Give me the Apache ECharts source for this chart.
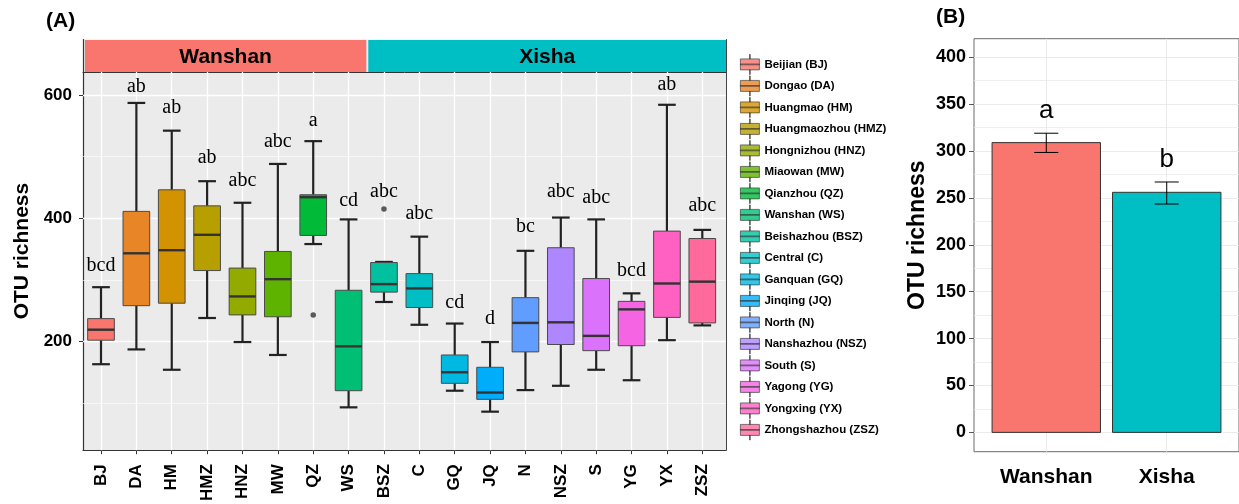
<!DOCTYPE html>
<html>
<head>
    <meta charset="UTF-8">
    <title>OTU richness</title>
    <style>
        html, body { margin: 0; padding: 0; background: #fff; }
        #chart { width: 1239px; height: 504px; }
    </style>
    <script type="text/javascript" src="https://cdn.jsdelivr.net/npm/echarts@6/dist/echarts.min.js"></script>
</head>
<body>
<div id="chart"></div>
<script>
    // ---- panel A data (box plots per site) ----
    const sites = ['BJ', 'DA', 'HM', 'HMZ', 'HNZ', 'MW', 'QZ', 'WS', 'BSZ', 'C', 'GQ', 'JQ', 'N', 'NSZ', 'S', 'YG', 'YX', 'ZSZ'];
    const siteNames = ['Beijian (BJ)', 'Dongao (DA)', 'Huangmao (HM)', 'Huangmaozhou (HMZ)', 'Hongnizhou (HNZ)',
        'Miaowan (MW)', 'Qianzhou (QZ)', 'Wanshan (WS)', 'Beishazhou (BSZ)', 'Central (C)', 'Ganquan (GQ)',
        'Jinqing (JQ)', 'North (N)', 'Nanshazhou (NSZ)', 'South (S)', 'Yagong (YG)', 'Yongxing (YX)', 'Zhongshazhou (ZSZ)'];
    const siteGroup = ['Wanshan', 'Wanshan', 'Wanshan', 'Wanshan', 'Wanshan', 'Wanshan', 'Wanshan', 'Wanshan',
        'Xisha', 'Xisha', 'Xisha', 'Xisha', 'Xisha', 'Xisha', 'Xisha', 'Xisha', 'Xisha', 'Xisha'];
    const whiskerLow  = [163, 187, 154, 238, 199, 178, 358, 93, 264, 227, 120, 86, 121, 128, 154, 137, 202, 226];
    const q1          = [202, 258, 262, 315, 243, 240, 372, 120, 280, 255, 132, 106, 183, 195, 185, 193, 239, 230];
    const median      = [219, 343, 348, 373, 273, 301, 434, 192, 293, 286, 150, 117, 230, 231, 209, 252, 294, 297];
    const q3          = [237, 411, 446, 420, 319, 346, 438, 283, 328, 310, 178, 158, 271, 352, 302, 265, 379, 367];
    const whiskerHigh = [288, 587, 542, 460, 425, 488, 525, 398, 329, 370, 229, 199, 347, 401, 398, 278, 584, 381];
    const outlierSite  = ['QZ', 'BSZ'];
    const outlierValue = [243, 415];
    const letters = ['bcd', 'ab', 'ab', 'ab', 'abc', 'abc', 'a', 'cd', 'abc', 'abc', 'cd', 'd', 'bc', 'abc', 'abc', 'bcd', 'ab', 'abc'];
    const letterY = [312, 602, 568, 486, 450, 512, 547, 417, 431, 396, 252, 225, 374, 432, 421, 303, 605, 408];
    const yTicksA = [200, 400, 600];
    const yMinorA = [100, 300, 500];

    // ---- panel B data (mean +/- se per region) ----
    const regions = ['Wanshan', 'Xisha'];
    const meanRichness = [309, 256];
    const errLow  = [298.5, 243.5];
    const errHigh = [319, 267];
    const regionLetters = ['a', 'b'];
    const regionLetterY = [334, 282];
    const yTicksB = [0, 50, 100, 150, 200, 250, 300, 350, 400];
    const yMinorB = [25, 75, 125, 175, 225, 275, 325, 375];

    // ggplot2 default hue palette (hcl, c = 100, l = 65)
    function hcl(h, c, l) {
        const rad = h * Math.PI / 180;
        const U = c * Math.cos(rad), V = c * Math.sin(rad);
        const Y = l > 8 ? 100 * Math.pow((l + 16) / 116, 3) : 100 * l / 903.3;
        const u = U / (13 * l) + 0.1978398, v = V / (13 * l) + 0.4683363;
        const X = 9 * Y * u / (4 * v);
        const Z = -X / 3 - 5 * Y + 3 * Y / v;
        const lin = [
            3.240479 * X - 1.537150 * Y - 0.498535 * Z,
            -0.969256 * X + 1.875992 * Y + 0.041556 * Z,
            0.055648 * X - 0.204043 * Y + 1.057311 * Z
        ];
        return '#' + lin.map(t => {
            t = Math.max(0, t / 100);
            t = t > 0.00304 ? 1.055 * Math.pow(t, 1 / 2.4) - 0.055 : 12.92 * t;
            return Math.round(255 * Math.min(1, t)).toString(16).padStart(2, '0');
        }).join('');
    }
    function huePal(n) {
        const out = [];
        for (let k = 0; k < n; k++) out.push(hcl(15 + k * 360 / n, 100, 65));
        return out;
    }
    const siteColors = huePal(sites.length);
    const regionColors = huePal(regions.length);

    const sans = 'Liberation Sans';
    const serif = 'Liberation Serif';

    // strip groups from siteGroup
    const stripData = [];
    siteGroup.forEach((g, i) => {
        const last = stripData[stripData.length - 1];
        if (last && regions[last[2]] === g) last[1] = i;
        else stripData.push([i, i, regions.indexOf(g)]);
    });

    const boxData = sites.map((s, i) => [i, whiskerLow[i], q1[i], median[i], q3[i], whiskerHigh[i]]);
    const letterData = sites.map((s, i) => [i, letterY[i]]);
    const outlierData = outlierSite.map((s, k) => [sites.indexOf(s), outlierValue[k]]);
    const barData = regions.map((r, i) => [i + 1, meanRichness[i], errLow[i], errHigh[i]]);
    const regionLetterData = regions.map((r, i) => [i + 1, regionLetterY[i]]);

    function renderBox(params, api) {
        const x = api.value(0);
        const halfBox = 0.377, halfCap = 0.25;
        const pLow = api.coord([x, api.value(1)]);
        const pQ1 = api.coord([x, api.value(2)]);
        const pMed = api.coord([x, api.value(3)]);
        const pQ3 = api.coord([x, api.value(4)]);
        const pHigh = api.coord([x, api.value(5)]);
        const left = api.coord([x - halfBox, 0])[0];
        const right = api.coord([x + halfBox, 0])[0];
        const capL = api.coord([x - halfCap, 0])[0];
        const capR = api.coord([x + halfCap, 0])[0];
        const wStyle = {stroke: '#222', lineWidth: 2.2};
        return {
            type: 'group',
            children: [
                {type: 'line', shape: {x1: pHigh[0], y1: pHigh[1], x2: pQ3[0], y2: pQ3[1]}, style: wStyle},
                {type: 'line', shape: {x1: pLow[0], y1: pLow[1], x2: pQ1[0], y2: pQ1[1]}, style: wStyle},
                {type: 'line', shape: {x1: capL, y1: pHigh[1], x2: capR, y2: pHigh[1]}, style: wStyle},
                {type: 'line', shape: {x1: capL, y1: pLow[1], x2: capR, y2: pLow[1]}, style: wStyle},
                {
                    type: 'rect',
                    shape: {x: left, y: pQ3[1], width: right - left, height: pQ1[1] - pQ3[1]},
                    style: {fill: siteColors[params.dataIndex], stroke: '#4a4a4a', lineWidth: 1}
                },
                {type: 'line', shape: {x1: left, y1: pMed[1], x2: right, y2: pMed[1]}, style: {stroke: '#333', lineWidth: 2.4}}
            ]
        };
    }

    function renderLetter(texts, font, shift) {
        return function (params, api) {
            const p = api.coord([api.value(0), api.value(1)]);
            return {
                type: 'text',
                x: p[0],
                y: p[1] + shift,
                style: {text: texts[params.dataIndex], font: font, fill: '#000', align: 'center', verticalAlign: 'bottom'}
            };
        };
    }

    function renderStrip(params, api) {
        const cs = params.coordSys;
        const i = params.dataIndex;
        let x0 = api.coord([api.value(0) - 0.5, 0])[0];
        let x1 = api.coord([api.value(1) + 0.5, 0])[0];
        if (i === 0) x0 = cs.x;
        if (i === stripData.length - 1) x1 = cs.x + cs.width;
        x0 += 2;
        return {
            type: 'group',
            children: [
                {type: 'rect', shape: {x: x0, y: cs.y + 0.5, width: x1 - x0, height: cs.height - 0.5},
                    style: {fill: regionColors[api.value(2)]}},
                {type: 'text', x: (x0 + x1) / 2, y: cs.y + cs.height / 2 + 1,
                    style: {text: regions[api.value(2)], font: 'bold 21px ' + sans, fill: '#000', align: 'center', verticalAlign: 'middle'}}
            ]
        };
    }

    function renderBar(params, api) {
        const x = api.value(0);
        const top = api.coord([x - 0.45, api.value(1)]);
        const bottom = api.coord([x + 0.45, 0]);
        const eHi = api.coord([x, api.value(3)]);
        const eLo = api.coord([x, api.value(2)]);
        const capL = api.coord([x - 0.1, 0])[0];
        const capR = api.coord([x + 0.1, 0])[0];
        const eStyle = {stroke: '#000', lineWidth: 1};
        return {
            type: 'group',
            children: [
                {type: 'rect', shape: {x: top[0], y: top[1], width: bottom[0] - top[0], height: bottom[1] - top[1]},
                    style: {fill: regionColors[params.dataIndex], stroke: '#333', lineWidth: 1}},
                {type: 'line', shape: {x1: eHi[0], y1: eHi[1], x2: eLo[0], y2: eLo[1]}, style: eStyle},
                {type: 'line', shape: {x1: capL, y1: eHi[1], x2: capR, y2: eHi[1]}, style: eStyle},
                {type: 'line', shape: {x1: capL, y1: eLo[1], x2: capR, y2: eLo[1]}, style: eStyle}
            ]
        };
    }

    function gridLines(hMajor, hMinor, vLines, color, majorW, minorW) {
        const data = [];
        hMinor.forEach(v => data.push({yAxis: v, lineStyle: {color: color, width: minorW, type: 'solid'}}));
        hMajor.forEach(v => data.push({yAxis: v, lineStyle: {color: color, width: majorW, type: 'solid'}}));
        vLines.forEach(v => data.push({xAxis: v, lineStyle: {color: color, width: majorW, type: 'solid'}}));
        return {z: 1, silent: true, symbol: ['none', 'none'], label: {show: false}, animation: false, data: data};
    }

    const noAxis = {axisLine: {show: false}, axisTick: {show: false}, axisLabel: {show: false}, splitLine: {show: false}};
    const borderLine = {show: true, lineStyle: {color: '#333', width: 1}};
    const xMinA = -0.509, xMaxA = 17.67;

    let chart = echarts.init(document.getElementById('chart'), null, {renderer: 'canvas'});

    let option = {
        animation: false,
        backgroundColor: '#fff',
        title: [
            {text: '(A)', left: 46, top: 11, padding: 0, textStyle: {fontFamily: sans, fontSize: 21, fontWeight: 'bold', color: '#000'}},
            {text: '(B)', left: 936, top: 7, padding: 0, textStyle: {fontFamily: sans, fontSize: 21, fontWeight: 'bold', color: '#000'}}
        ],
        grid: [
            {left: 83, top: 72, width: 643, height: 379, show: true, backgroundColor: '#EBEBEB', borderWidth: 0},
            {left: 83, top: 39.5, width: 643, height: 32.5, show: true, backgroundColor: '#EBEBEB', borderWidth: 0},
            {left: 974, top: 38.7, width: 266, height: 413, show: true, backgroundColor: '#fff', borderColor: '#6b6b6b', borderWidth: 1}
        ],
        xAxis: [
            {
                gridIndex: 0, type: 'value', min: xMinA, max: xMaxA,
                axisLine: {show: true, onZero: false, lineStyle: {color: '#333', width: 1.2}},
                axisTick: {show: true, length: 4, customValues: sites.map((s, i) => i), lineStyle: {color: '#333'}},
                axisLabel: {
                    customValues: sites.map((s, i) => i), rotate: 90, margin: 14,
                    fontFamily: sans, fontSize: 17, fontWeight: 'bold', color: '#000',
                    formatter: v => sites[v]
                },
                splitLine: {show: false}
            },
            Object.assign({gridIndex: 1, type: 'value', min: xMinA, max: xMaxA, position: 'top'}, noAxis,
                {axisLine: borderLine}),
            {
                gridIndex: 2, type: 'value', min: 0.4, max: 2.6,
                axisLine: {show: false},
                axisTick: {show: true, length: 4, customValues: [1, 2], lineStyle: {color: '#555'}},
                axisLabel: {
                    customValues: [1, 2], margin: 15,
                    fontFamily: sans, fontSize: 21, fontWeight: 'bold', color: '#000',
                    formatter: v => regions[v - 1]
                },
                splitLine: {show: false}
            }
        ],
        yAxis: [
            {
                gridIndex: 0, type: 'value', min: 23.5, max: 637.2,
                name: 'OTU richness', nameLocation: 'middle', nameGap: 47,
                nameTextStyle: {fontFamily: sans, fontSize: 21, fontWeight: 'bold', color: '#000', padding: [0, 0, 0, 20]},
                axisLine: {show: true, onZero: false, lineStyle: {color: '#333', width: 1.2}},
                axisTick: {show: true, length: 4, customValues: yTicksA, lineStyle: {color: '#333'}},
                axisLabel: {customValues: yTicksA, margin: 11, fontFamily: sans, fontSize: 17, fontWeight: 'bold', color: '#000'},
                splitLine: {show: false}
            },
            Object.assign({gridIndex: 0, type: 'value', min: 23.5, max: 637.2, position: 'right'}, noAxis,
                {axisLine: {show: true, onZero: false, lineStyle: {color: '#444', width: 1}}}),
            Object.assign({gridIndex: 1, type: 'value', min: 0, max: 1, position: 'left'}, noAxis,
                {axisLine: {show: true, onZero: false, lineStyle: {color: '#333', width: 1.2}}}),
            Object.assign({gridIndex: 1, type: 'value', min: 0, max: 1, position: 'right'}, noAxis,
                {axisLine: {show: true, onZero: false, lineStyle: {color: '#444', width: 1}}}),
            {
                gridIndex: 2, type: 'value', min: -20.6, max: 419.8,
                name: 'OTU richness', nameLocation: 'middle', nameGap: 45,
                nameTextStyle: {fontFamily: sans, fontSize: 23, fontWeight: 'bold', color: '#000', padding: [0, 0, 0, 20]},
                axisLine: {show: false},
                axisTick: {show: true, length: 5, customValues: yTicksB, lineStyle: {color: '#555'}},
                axisLabel: {customValues: yTicksB, margin: 8, fontFamily: sans, fontSize: 18, fontWeight: 'bold', color: '#000'},
                splitLine: {show: false}
            }
        ],
        legend: {
            orient: 'vertical', left: 740, top: 54, padding: 0,
            itemWidth: 19, itemHeight: 20, itemGap: 0.7,
            icon: 'path://M0,4.5H19V15.5H0Z M0,9.6H19V10.4H0Z M9.1,0H9.9V4.5H9.1Z M9.1,15.5H9.9V20H9.1Z',
            itemStyle: {borderColor: '#333', borderWidth: 0.8},
            textStyle: {fontFamily: sans, fontSize: 11.5, fontWeight: 'bold', color: '#000'},
            data: siteNames
        },
        series: [
            {
                type: 'line', xAxisIndex: 0, yAxisIndex: 0, data: [], z: 1, silent: true,
                markLine: gridLines(yTicksA, yMinorA, sites.map((s, i) => i), '#ffffff', 1.3, 0.6)
            },
            {
                type: 'custom', name: 'boxes', xAxisIndex: 0, yAxisIndex: 0, z: 3,
                renderItem: renderBox, encode: {x: 0, y: [1, 2, 3, 4, 5]}, data: boxData
            },
            {
                type: 'scatter', name: 'outliers', xAxisIndex: 0, yAxisIndex: 0, z: 4,
                symbolSize: 5.5, itemStyle: {color: '#333'}, data: outlierData
            },
            {
                type: 'custom', name: 'letters', xAxisIndex: 0, yAxisIndex: 0, z: 4,
                renderItem: renderLetter(letters, '20px ' + serif, 3), encode: {x: 0, y: 1}, data: letterData
            },
            {
                type: 'custom', name: 'strip', xAxisIndex: 1, yAxisIndex: 2, z: 1,
                renderItem: renderStrip, encode: {x: [0, 1]}, data: stripData
            },
            {
                type: 'line', xAxisIndex: 2, yAxisIndex: 4, data: [], z: 1, silent: true,
                markLine: gridLines(yTicksB, yMinorB, [1, 2], '#EBEBEB', 1, 0.8)
            },
            {
                type: 'custom', name: 'means', xAxisIndex: 2, yAxisIndex: 4, z: 3,
                renderItem: renderBar, encode: {x: 0, y: [1, 2, 3]}, data: barData
            },
            {
                type: 'custom', name: 'regionLetters', xAxisIndex: 2, yAxisIndex: 4, z: 4,
                renderItem: renderLetter(regionLetters, '26px ' + sans, 5), encode: {x: 0, y: 1}, data: regionLetterData
            }
        ].concat(siteNames.map((n, i) => ({
            type: 'scatter', name: n, xAxisIndex: 0, yAxisIndex: 0, data: [], itemStyle: {color: siteColors[i]}
        })))
    };
    chart.setOption(option);
</script>
</body>
</html>
